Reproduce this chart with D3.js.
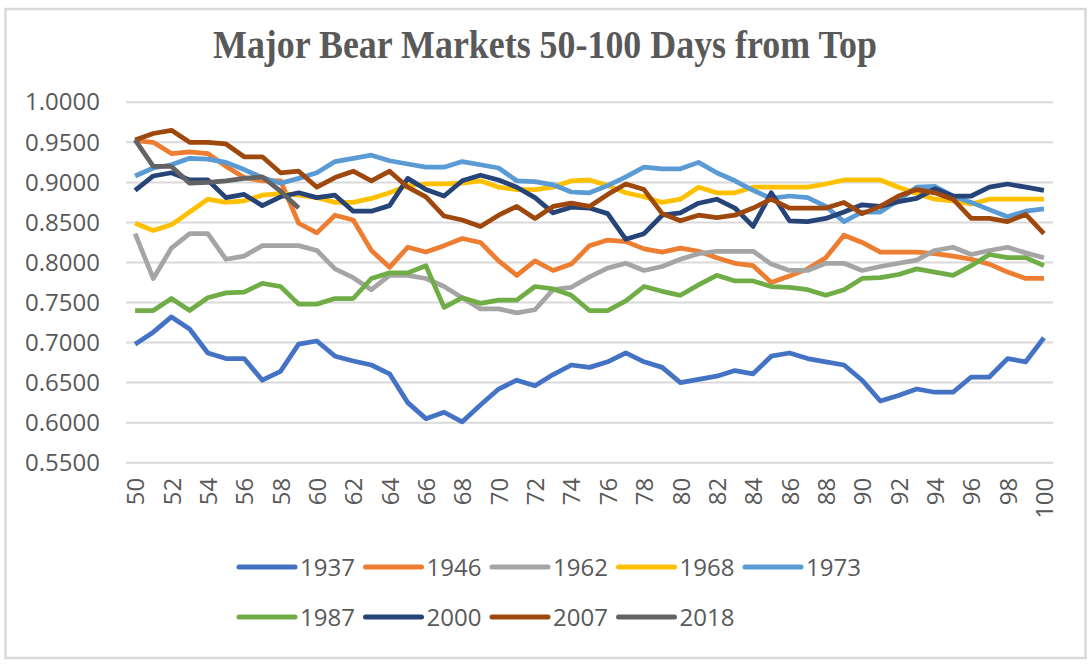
<!DOCTYPE html>
<html>
<head>
<meta charset="utf-8">
<script src="https://cdn.jsdelivr.net/npm/d3@7"></script>
<style>
  html, body { margin: 0; padding: 0; background: #ffffff; }
  svg { display: block; }
</style>
</head>
<body>
<svg id="chart" width="1092" height="664"></svg>
<script>
const title = "Major Bear Markets 50-100 Days from Top";
const days = d3.range(50, 101);
const xTickLabels = d3.range(50, 101, 2);
const yTicks = [0.55, 0.60, 0.65, 0.70, 0.75, 0.80, 0.85, 0.90, 0.95, 1.00];

const seriesNames = ["1937", "1946", "1962", "1968", "1973", "1987", "2000", "2007", "2018"];
const seriesColors = ["#4472C4", "#ED7D31", "#A5A5A5", "#FFC000", "#5B9BD5", "#70AD47", "#264478", "#9E480E", "#636363"];

const s1937 = [0.698,0.713,0.732,0.717,0.687,0.680,0.680,0.653,0.664,0.698,
               0.702,0.683,0.677,0.672,0.661,0.625,0.605,0.613,0.601,0.622,
               0.642,0.653,0.646,0.660,0.672,0.669,0.676,0.687,0.676,0.669,
               0.650,0.654,0.658,0.665,0.661,0.683,0.687,0.680,0.676,0.672,
               0.653,0.627,0.634,0.642,0.638,0.638,0.657,0.657,0.680,0.676,0.706];
const s1946 = [0.952,0.950,0.936,0.938,0.936,0.920,0.906,0.902,0.902,0.849,
               0.837,0.859,0.853,0.815,0.794,0.819,0.813,0.821,0.830,0.825,
               0.802,0.784,0.802,0.790,0.798,0.821,0.828,0.826,0.817,0.813,
               0.818,0.814,0.806,0.799,0.796,0.775,0.783,0.792,0.806,0.834,
               0.825,0.813,0.813,0.813,0.811,0.808,0.804,0.798,0.788,0.780,0.780];
const s1962 = [0.836,0.780,0.818,0.836,0.836,0.804,0.808,0.821,0.821,0.821,
               0.815,0.792,0.781,0.766,0.784,0.784,0.780,0.770,0.756,0.742,
               0.742,0.737,0.741,0.766,0.769,0.782,0.793,0.799,0.790,0.795,
               0.804,0.811,0.814,0.814,0.814,0.798,0.790,0.790,0.799,0.799,
               0.790,0.795,0.799,0.803,0.815,0.819,0.810,0.815,0.819,0.812,0.806];
const s1968 = [0.849,0.840,0.847,0.863,0.879,0.875,0.877,0.884,0.886,0.884,
               0.881,0.875,0.875,0.880,0.887,0.896,0.898,0.898,0.899,0.902,
               0.894,0.891,0.891,0.894,0.902,0.903,0.896,0.887,0.882,0.875,
               0.879,0.894,0.887,0.887,0.894,0.894,0.894,0.894,0.898,0.903,
               0.903,0.903,0.894,0.886,0.879,0.877,0.873,0.879,0.879,0.879,0.879];
const s1973 = [0.908,0.918,0.922,0.930,0.929,0.925,0.916,0.906,0.899,0.905,
               0.912,0.926,0.930,0.934,0.927,0.923,0.919,0.919,0.926,0.922,
               0.918,0.902,0.901,0.897,0.888,0.887,0.896,0.907,0.919,0.917,
               0.917,0.925,0.912,0.902,0.890,0.880,0.883,0.881,0.870,0.851,
               0.863,0.863,0.878,0.894,0.895,0.883,0.875,0.866,0.857,0.864,0.867];
const s1987 = [0.740,0.740,0.755,0.740,0.756,0.762,0.763,0.774,0.770,0.748,
               0.748,0.755,0.755,0.780,0.787,0.787,0.796,0.744,0.756,0.749,
               0.753,0.753,0.770,0.767,0.759,0.740,0.740,0.752,0.770,0.764,
               0.759,0.772,0.784,0.777,0.777,0.770,0.769,0.766,0.759,0.766,
               0.780,0.781,0.785,0.792,0.788,0.784,0.796,0.810,0.806,0.806,0.796];
const s2000 = [0.890,0.908,0.912,0.903,0.903,0.881,0.885,0.871,0.882,0.887,
               0.881,0.884,0.864,0.864,0.871,0.905,0.891,0.883,0.902,0.909,
               0.903,0.894,0.881,0.862,0.869,0.868,0.861,0.829,0.836,0.859,
               0.862,0.874,0.879,0.868,0.845,0.887,0.852,0.851,0.855,0.863,
               0.872,0.870,0.876,0.880,0.892,0.883,0.883,0.894,0.898,0.894,0.890];
const s2007 = [0.953,0.961,0.965,0.950,0.950,0.948,0.932,0.932,0.912,0.914,
               0.894,0.906,0.914,0.902,0.914,0.894,0.882,0.858,0.853,0.845,
               0.859,0.870,0.855,0.870,0.874,0.870,0.885,0.898,0.891,0.861,
               0.852,0.859,0.856,0.859,0.868,0.879,0.868,0.868,0.868,0.875,
               0.861,0.870,0.883,0.891,0.887,0.879,0.855,0.855,0.851,0.860,0.836];
const s2018 = [0.953,0.920,0.920,0.899,0.900,0.902,0.905,0.907,0.889,0.868];

const seriesValues = [s1937, s1946, s1962, s1968, s1973, s1987, s2000, s2007, s2018];

const svg = d3.select("#chart");
const plot = { left: 126, right: 1053, top: 102.3, bottom: 462.7 };
const textColor = "#595959";
const font = "'Open Sans', 'Liberation Sans', sans-serif";

// outer frame
svg.append("rect")
  .attr("x", 5.5).attr("y", 9).attr("width", 1080).attr("height", 649)
  .attr("fill", "#ffffff").attr("stroke", "#d9d9d9").attr("stroke-width", 2.5);

// title
svg.append("text")
  .attr("x", (213 + 877) / 2).attr("y", 58)
  .attr("text-anchor", "middle")
  .attr("font-family", "'Liberation Serif', 'Times New Roman', serif")
  .attr("font-weight", "bold")
  .attr("font-size", 39)
  .attr("fill", textColor)
  .attr("textLength", 664)
  .attr("lengthAdjust", "spacingAndGlyphs")
  .text(title);

const x = d3.scalePoint().domain(days).range([plot.left, plot.right]).padding(0.5);
const y = d3.scaleLinear().domain([0.55, 1.0]).range([plot.bottom, plot.top]);

// gridlines
svg.append("g").selectAll("line").data(yTicks).join("line")
  .attr("x1", plot.left).attr("x2", plot.right)
  .attr("y1", d => y(d)).attr("y2", d => y(d))
  .attr("stroke", "#d9d9d9").attr("stroke-width", 2);

// y axis labels
const yAxis = d3.axisLeft(y).tickValues(yTicks).tickFormat(d3.format(".4f")).tickSize(0).tickPadding(0);
const gy = svg.append("g").attr("transform", `translate(100,0)`).call(yAxis);
gy.select(".domain").remove();
gy.selectAll("text")
  .attr("font-family", font).attr("font-size", 24).attr("fill", textColor);

// x axis labels
const xAxis = d3.axisBottom(x).tickValues(xTickLabels).tickSize(0).tickPadding(0);
const gx = svg.append("g").attr("transform", `translate(0,${plot.bottom})`).call(xAxis);
gx.select(".domain").remove();
gx.selectAll("text")
  .attr("font-family", font).attr("font-size", 24).attr("fill", textColor)
  .attr("transform", "rotate(-90)")
  .attr("text-anchor", "end")
  .attr("x", -15).attr("y", 0).attr("dy", "0.36em");

// lines
const line = d3.line().x((d, i) => x(days[i])).y(d => y(d));
const gLines = svg.append("g");
seriesValues.forEach((vals, k) => {
  gLines.append("path")
    .datum(vals)
    .attr("fill", "none")
    .attr("stroke", seriesColors[k])
    .attr("stroke-width", 4.75)
    .attr("stroke-linejoin", "round")
    .attr("stroke-linecap", "butt")
    .attr("d", line);
});

// legend
const legendRows = [[0,1,2,3,4],[5,6,7,8]];
const legendX0 = 237, legendStep = 126.5, legendRowY = [567, 617];
legendRows.forEach((row, r) => {
  row.forEach((k, j) => {
    const lx = legendX0 + j * legendStep;
    const ly = legendRowY[r];
    svg.append("line")
      .attr("x1", lx + 2).attr("x2", lx + 58)
      .attr("y1", ly).attr("y2", ly)
      .attr("stroke", seriesColors[k]).attr("stroke-width", 5)
      .attr("stroke-linecap", "round");
    svg.append("text")
      .attr("x", lx + 63).attr("y", ly).attr("dy", "0.36em")
      .attr("font-family", font).attr("font-size", 24).attr("fill", textColor)
      .text(seriesNames[k]);
  });
});
</script>
</body>
</html>
